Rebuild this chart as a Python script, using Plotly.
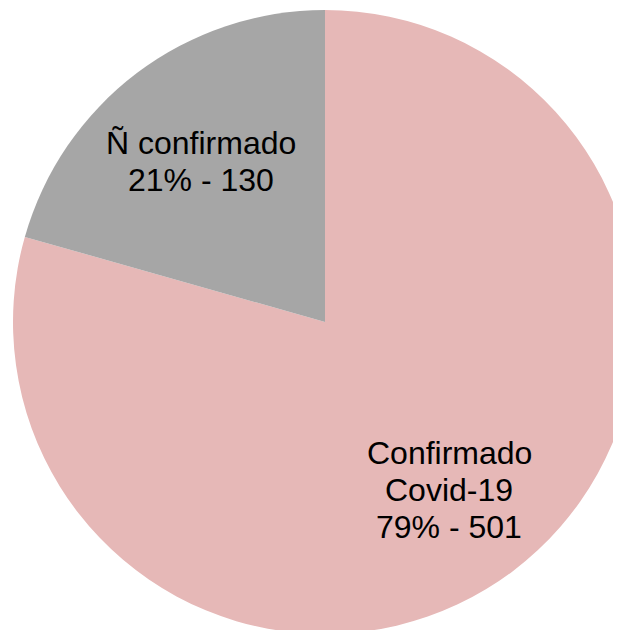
import math
import plotly.graph_objects as go

labels = ['Confirmado<br>Covid-19', 'Ñ confirmado']
values = [501, 130]
colors = ['#E6B8B7', '#A6A6A6']

W, H = 650, 650
# body has an 8px margin in the page, so shift the pie back by it
cx, cy, r = 317, 314, 312
line_gap = 37

fig = go.Figure()
fig.add_trace(go.Pie(
    labels=labels,
    values=values,
    sort=False,
    direction='clockwise',
    rotation=0,
    marker=dict(colors=colors, line=dict(width=0)),
    textinfo='none',
    hoverinfo='skip',
    domain=dict(x=[(cx - r) / W, (cx + r) / W],
                y=[(H - cy - r) / H, (H - cy + r) / H]),
))

# labels placed on the mid angle of each slice (clockwise from 12 o'clock)
# one annotation per line so the line spacing is tighter than plotly's
total = sum(values)
cum = 0
for lab, v in zip(labels, values):
    mid = (cum + v / 2) / total * 2 * math.pi
    cum += v
    px = cx + 0.66 * r * math.sin(mid)
    py = (H - cy) + 0.66 * r * math.cos(mid) - 4
    lines = lab.split('<br>') + [f'{round(v / total * 100)}% - {v}']
    n = len(lines)
    for i, txt in enumerate(lines):
        fig.add_annotation(
            x=px / W, y=py / H, xref='paper', yref='paper',
            xanchor='center', yanchor='middle',
            yshift=((n - 1) / 2 - i) * line_gap,
            text=txt,
            showarrow=False,
            font=dict(family='Liberation Sans, Arial', size=32, color='black'),
        )

fig.update_layout(
    width=W, height=H,
    margin=dict(l=0, r=0, t=0, b=0),
    showlegend=False,
    paper_bgcolor='white',
    plot_bgcolor='white',
)

fig.write_html("out.html")
